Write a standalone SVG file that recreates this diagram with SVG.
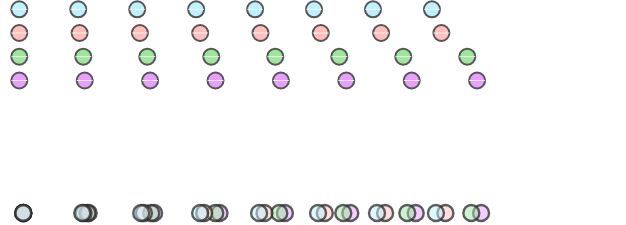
<svg xmlns="http://www.w3.org/2000/svg" xmlns:xlink="http://www.w3.org/1999/xlink" width="626" height="225" viewBox="0 0 626 225">
<style>
.t{stroke:#555;stroke-width:2}
.hl{stroke:#fff;stroke-width:1;stroke-opacity:0.8}
.m{stroke:#2a2a2a;stroke-width:2.4;stroke-opacity:0.75;fill-opacity:0.5}
.b{fill:#bff0ff}
.p{fill:#ffbfbf}
.g{fill:#a0e4a0}
.v{fill:#e8a0ff}
</style>
<defs>
<g id="db"><circle class="t b" r="8"/><line class="hl" x1="-8" x2="8"/></g>
<g id="dp"><circle class="t p" r="8"/><line class="hl" x1="-8" x2="8"/></g>
<g id="dg"><circle class="t g" r="8"/><line class="hl" x1="-8" x2="8"/></g>
<g id="dv"><circle class="t v" r="8"/><line class="hl" x1="-8" x2="8"/></g>
<circle id="mb" class="m b" r="8"/>
<circle id="mp" class="m p" r="8"/>
<circle id="mg" class="m g" r="8"/>
<circle id="mv" class="m v" r="8"/>
</defs>
<rect width="626" height="225" fill="#fff"/>
<g id="row-blue">
<use href="#db" x="19.3" y="9.3"/><use href="#db" x="78.25" y="9.3"/><use href="#db" x="137.2" y="9.3"/><use href="#db" x="196.15" y="9.3"/><use href="#db" x="255.1" y="9.3"/><use href="#db" x="314.05" y="9.3"/><use href="#db" x="373" y="9.3"/><use href="#db" x="431.95" y="9.3"/>
</g>
<g id="row-pink">
<use href="#dp" x="19.3" y="33"/><use href="#dp" x="79.6" y="33"/><use href="#dp" x="139.9" y="33"/><use href="#dp" x="200.2" y="33"/><use href="#dp" x="260.5" y="33"/><use href="#dp" x="320.8" y="33"/><use href="#dp" x="381.1" y="33"/><use href="#dp" x="441.4" y="33"/>
</g>
<g id="row-green">
<use href="#dg" x="19.3" y="56.7"/><use href="#dg" x="83.3" y="56.7"/><use href="#dg" x="147.3" y="56.7"/><use href="#dg" x="211.3" y="56.7"/><use href="#dg" x="275.3" y="56.7"/><use href="#dg" x="339.3" y="56.7"/><use href="#dg" x="403.3" y="56.7"/><use href="#dg" x="467.3" y="56.7"/>
</g>
<g id="row-purple">
<use href="#dv" x="19.3" y="80.5"/><use href="#dv" x="84.7" y="80.5"/><use href="#dv" x="150.1" y="80.5"/><use href="#dv" x="215.5" y="80.5"/><use href="#dv" x="280.9" y="80.5"/><use href="#dv" x="346.3" y="80.5"/><use href="#dv" x="411.7" y="80.5"/><use href="#dv" x="477.1" y="80.5"/>
</g>
<g id="row-merged">
<use href="#mv" x="23.3" y="213"/><use href="#mg" x="23.3" y="213"/><use href="#mp" x="23.3" y="213"/><use href="#mb" x="23.3" y="213"/>
<use href="#mv" x="88.7" y="213"/><use href="#mg" x="87.3" y="213"/><use href="#mp" x="83.6" y="213"/><use href="#mb" x="82.25" y="213"/>
<use href="#mv" x="154.1" y="213"/><use href="#mg" x="151.3" y="213"/><use href="#mp" x="143.9" y="213"/><use href="#mb" x="141.2" y="213"/>
<use href="#mv" x="219.5" y="213"/><use href="#mg" x="215.3" y="213"/><use href="#mp" x="204.2" y="213"/><use href="#mb" x="200.15" y="213"/>
<use href="#mv" x="284.9" y="213"/><use href="#mg" x="279.3" y="213"/><use href="#mp" x="264.5" y="213"/><use href="#mb" x="259.1" y="213"/>
<use href="#mv" x="350.3" y="213"/><use href="#mg" x="343.3" y="213"/><use href="#mp" x="324.8" y="213"/><use href="#mb" x="318.05" y="213"/>
<use href="#mv" x="415.7" y="213"/><use href="#mg" x="407.3" y="213"/><use href="#mp" x="385.1" y="213"/><use href="#mb" x="377" y="213"/>
<use href="#mv" x="481.1" y="213"/><use href="#mg" x="471.3" y="213"/><use href="#mp" x="445.4" y="213"/><use href="#mb" x="435.95" y="213"/>
</g>
</svg>
